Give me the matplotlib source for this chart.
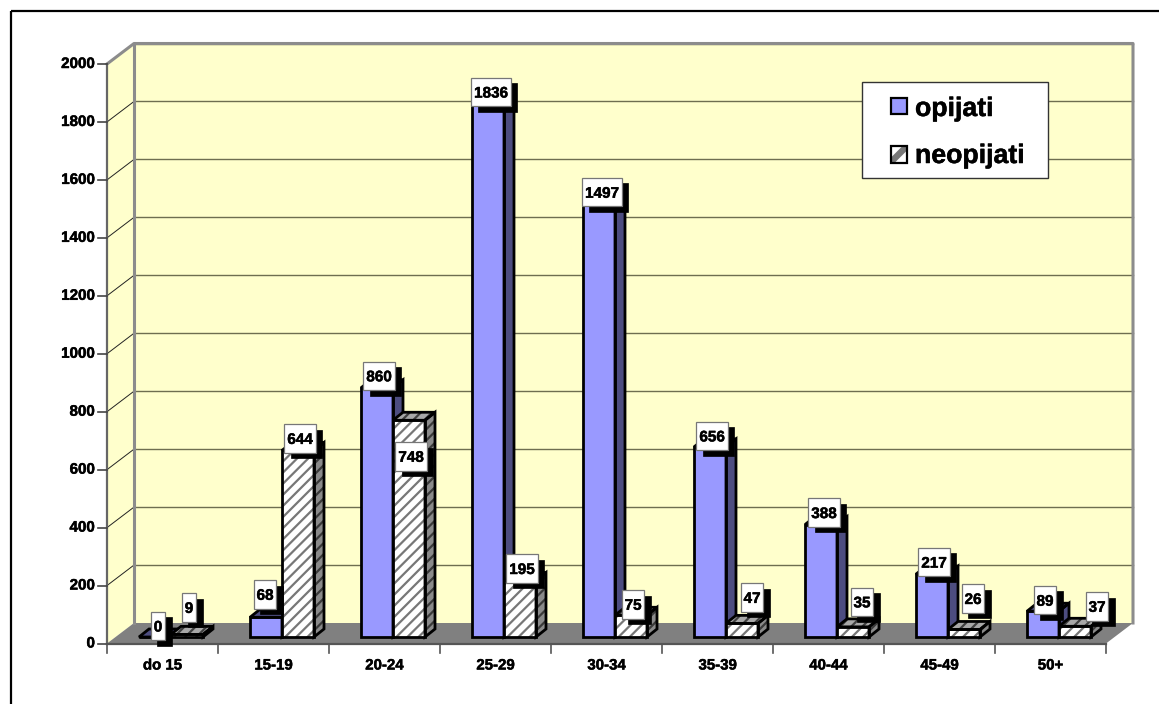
import matplotlib
matplotlib.use("Agg")
import matplotlib.pyplot as plt
import matplotlib.patheffects as pe
from matplotlib.patches import Polygon, Rectangle

plt.rcParams['font.family'] = ['Liberation Sans', 'DejaVu Sans']
plt.rcParams['hatch.linewidth'] = 1.6

categories = ['do 15', '15-19', '20-24', '25-29', '30-34', '35-39', '40-44', '45-49', '50+']
opijati = [0, 68, 860, 1836, 1497, 656, 388, 217, 89]
neopijati = [9, 644, 748, 195, 75, 47, 35, 26, 37]
y_ticks = list(range(0, 2001, 200))
series_names = ['opijati', 'neopijati']

# layout, in pixels of the 1159x704 picture
W, H = 1159, 704
AX_L, AX_R, AX_TOP, AX_BOT = 107, 1106, 64, 643.5
fig = plt.figure(figsize=(W / 100, H / 100), dpi=100, facecolor='white')
ax = fig.add_axes([AX_L / W, 1 - AX_BOT / H, (AX_R - AX_L) / W, (AX_BOT - AX_TOP) / H])
ax.set_xlim(0, len(categories))
ax.set_ylim(0, 2000)
ax.axis('off')
PX = len(categories) / (AX_R - AX_L)      # data units per pixel
PY = 2000 / (AX_BOT - AX_TOP)

WALL, FLOOR, BORDER, GRID = '#FFFFCC', '#808080', '#8C8C8C', '#6E6E50'
BLUE, BLUE_DK = '#9999FF', '#4D4D80'
DX, DY = 27 * PX, 20.5 * PY               # depth of the chart box
N = len(categories)
HEAVY = [pe.withStroke(linewidth=0.35, foreground='black')]


def poly(pts, **kw):
    kw.setdefault('clip_on', False)
    p = Polygon(pts, closed=True, **kw)
    ax.add_patch(p)
    return p


def line(xs, ys, **kw):
    ax.plot(xs, ys, clip_on=False, solid_capstyle='projecting', **kw)


# outer frame
frame = Rectangle((11 / W, 1 - 11 / H), 2, -2, transform=fig.transFigure, fill=False,
                  ec='black', lw=1.6, clip_on=False)
fig.add_artist(frame)

# walls and floor
poly([(DX, DY), (N + DX, DY), (N + DX, 2000 + DY), (DX, 2000 + DY)], fc=WALL, ec='none', zorder=1)
poly([(0, 0), (DX, DY), (DX, 2000 + DY), (0, 2000)], fc=WALL, ec='none', zorder=1)
poly([(0, 0), (N, 0), (N + DX, DY), (DX, DY)], fc=FLOOR, ec='none', zorder=1.5)

for v in y_ticks[1:]:
    line([0, DX], [v, v + DY], color='#222222', lw=0.7, zorder=2)
    line([DX, N + DX], [v + DY, v + DY], color=GRID, lw=1.0, zorder=2)

line([0, DX, N + DX, N + DX], [2000, 2000 + DY, 2000 + DY, DY], color=BORDER, lw=2.2, zorder=3)
line([DX, DX], [DY, 2000 + DY], color=BORDER, lw=2.2, zorder=3)
line([0, 0], [0, 2000], color='#666666', lw=1.6, zorder=3)
line([0, N], [0, 0], color='#555555', lw=1.6, zorder=3)

# ticks and tick labels
for v in y_ticks:
    line([-9 * PX, 0], [v, v], color='#444444', lw=1.2, zorder=3)
    ax.text(-12 * PX, v, str(v), ha='right', va='center', fontsize=10.9, fontweight='bold',
            color='black', path_effects=HEAVY)
for i in range(N + 1):
    line([i, i], [0, -9 * PY], color='#555555', lw=1.2, zorder=3)
for i, c in enumerate(categories):
    ax.text(i + 0.5, -22 * PY, c, ha='center', va='center', fontsize=10.8, fontweight='bold',
            color='black', path_effects=HEAVY)

# bars
BW = 32 * PX
GAP = 32 * PX
BASE = 6.5 * PY
BDX, BDY = 10 * PX, 8 * PY


def hatched(pts, z, bg, fg):
    poly(pts, fc=bg, ec=fg, hatch='///', lw=0, zorder=z)


def bar(i, left, v, z, striped):
    x0, x1 = left, left + BW
    y0, y1 = BASE, BASE + v
    front = [(x0, y0), (x1, y0), (x1, y1), (x0, y1)]
    side = [(x1, y0), (x1 + BDX, y0 + BDY), (x1 + BDX, y1 + BDY), (x1, y1)]
    top = [(x0, y1), (x1, y1), (x1 + BDX, y1 + BDY), (x0 + BDX, y1 + BDY)]
    if striped:
        hatched(front, z, 'white', '#777777')
        hatched(side, z, '#8A8A8A', '#3A3A3A')
        hatched(top, z, '#A8A8A8', '#404040')
    else:
        poly(front, fc=BLUE, ec='none', zorder=z)
        poly(side, fc=BLUE_DK, ec='none', zorder=z)
        poly(top, fc=BLUE_DK, ec='none', zorder=z)
    for pts in (front, side, top):
        poly(pts, fc='none', ec='black', lw=2.0, joinstyle='miter', zorder=z + 0.01)


for i in range(N):
    bar(i, i + GAP, opijati[i], 4 + i, False)
    bar(i, i + GAP + BW, neopijati[i], 4.3 + i, True)

# value labels: nudges (px) from each bar's front-top centre
off_o = [(3, 11), (-1, 23), (2, 12), (3, 13), (3, 11), (2, 11), (3, 12), (2, 12), (2, 11)]
off_n = [(2, 27), (2, 12), (2, -36), (2, 12), (2, 11), (10, 26), (9, 25), (9, 31), (22, 20)]


def label(cx, cy, v):
    txt = str(v)
    w = (6.5 + 8.2 * len(txt)) * PX
    h = 28.5 * PY
    ax.add_patch(Rectangle((cx - w / 2 + 6.5 * PX, cy - h / 2 - 5.5 * PY), w, h, fc='black', ec='black',
                           lw=0.5, zorder=30, clip_on=False))
    ax.add_patch(Rectangle((cx - w / 2, cy - h / 2), w, h, fc='white', ec='#777777',
                           lw=0.9, zorder=31, clip_on=False))
    ax.text(cx, cy, txt, ha='center', va='center_baseline', fontsize=11, fontweight='bold',
            color='black', zorder=32, path_effects=HEAVY)


for i in range(N):
    label(i + GAP + BW / 2 + off_o[i][0] * PX, BASE + opijati[i] + off_o[i][1] * PY, opijati[i])
    label(i + GAP + 1.5 * BW + off_n[i][0] * PX, BASE + neopijati[i] + off_n[i][1] * PY, neopijati[i])

# legend, placed by hand like the reference box
lx0, lx1 = 862, 1048
ly0, ly1 = 82, 178


def X(p):
    return (p - AX_L) * PX


def Y(p):
    return (AX_BOT - p) * PY


ax.add_patch(Rectangle((X(lx0), Y(ly1)), X(lx1) - X(lx0), Y(ly0) - Y(ly1), fc='white', ec='#333333',
                       lw=1.0, zorder=40, clip_on=False))
ax.add_patch(Rectangle((X(890.5), Y(114.5)), 16 * PX, 16 * PY, fc=BLUE, ec='black', lw=1.6, zorder=41, clip_on=False))
ax.add_patch(Rectangle((X(890.5), Y(162.5)), 16 * PX, 16 * PY, fc='white', ec='none', zorder=41, clip_on=False))
poly([(X(890.5), Y(158)), (X(902), Y(146.5)), (X(906.5), Y(146.5)), (X(906.5), Y(151)), (X(895), Y(162.5)), (X(890.5), Y(162.5))],
     fc='#777777', ec='none', zorder=41.5)
ax.add_patch(Rectangle((X(890.5), Y(162.5)), 16 * PX, 16 * PY, fc='none', ec='black', lw=1.6, zorder=42, clip_on=False))
ax.text(X(915), Y(109), series_names[0], ha='left', va='center', fontsize=19.2, fontweight='bold', zorder=42, path_effects=HEAVY)
ax.text(X(915), Y(156), series_names[1], ha='left', va='center', fontsize=19.2, fontweight='bold', zorder=42, path_effects=HEAVY)

fig.savefig('out.png', dpi=100, facecolor='white')
